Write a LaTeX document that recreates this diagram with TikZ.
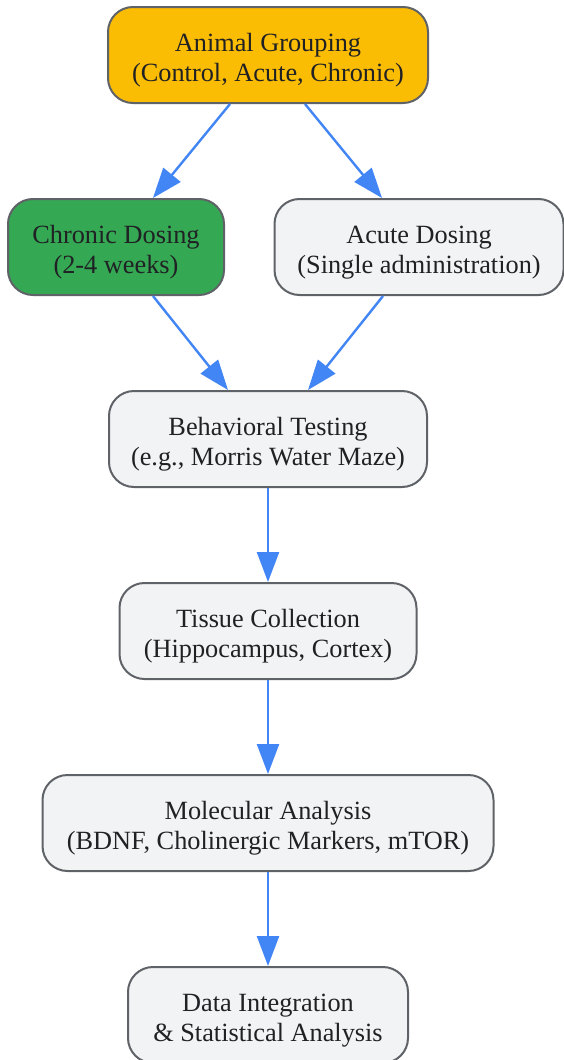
\documentclass[tikz,border=0pt]{standalone}
\usepackage{fontspec}
\setmainfont{Liberation Serif}
\usetikzlibrary{arrows.meta}
\definecolor{boxline}{HTML}{5F6368}
\definecolor{boxfill}{HTML}{F1F3F4}
\definecolor{groupfill}{HTML}{FBBC04}
\definecolor{chronicfill}{HTML}{34A853}
\definecolor{flowblue}{HTML}{4285F4}
\definecolor{labeltext}{HTML}{202124}
% invisible strut that pushes the two text lines down a little
\newcommand{\topgap}{\rule{0pt}{28pt}}
\begin{document}
\begin{tikzpicture}[x=1pt, y=-1pt, font=\fontsize{26.3}{30}\selectfont,
    every node/.style={draw=boxline, line width=2pt, fill=boxfill, rounded corners=25pt, minimum height=96pt, align=center, text=labeltext, inner sep=0pt},
    flow/.style={draw=flowblue, line width=2.4pt, -{Triangle[length=30pt, width=22pt]}}]
        \useasboundingbox (0, 0) rectangle (564, 1060);
        \node[fill=groupfill, minimum width=320pt] (group) at (268, 55) {\topgap Animal Grouping\\(Control, Acute, Chronic)};
        \node[fill=chronicfill, minimum width=216pt] (chronic) at (116, 247) {\topgap Chronic Dosing\\(2-4 weeks)};
        \node[minimum width=289pt] (acute) at (419, 247) {\topgap Acute Dosing\\(Single administration)};
        \node[minimum width=318pt] (behav) at (268, 439) {\topgap Behavioral Testing\\(e.g., Morris Water Maze)};
        \node[minimum width=297pt] (tissue) at (268, 631) {\topgap Tissue Collection\\(Hippocampus, Cortex)};
        \node[minimum width=451pt] (molec) at (268, 823) {\topgap Molecular Analysis\\(BDNF, Cholinergic Markers, mTOR)};
        \node[minimum width=280pt] (data) at (268, 1015) {\topgap Data Integration\\\& Statistical Analysis};

        \draw[flow] ([xshift=-38pt]group.south) -- ([xshift=37pt]chronic.north);
        \draw[flow] ([xshift=37pt]group.south) -- ([xshift=-37pt]acute.north);
        \draw[flow] ([xshift=37pt]chronic.south) -- ([xshift=-40pt]behav.north);
        \draw[flow] ([xshift=-36pt]acute.south) -- ([xshift=40pt]behav.north);
        \draw[flow] (behav) -- (tissue);
        \draw[flow] (tissue) -- (molec);
        \draw[flow] (molec) -- (data);
    \end{tikzpicture}
\end{document}
